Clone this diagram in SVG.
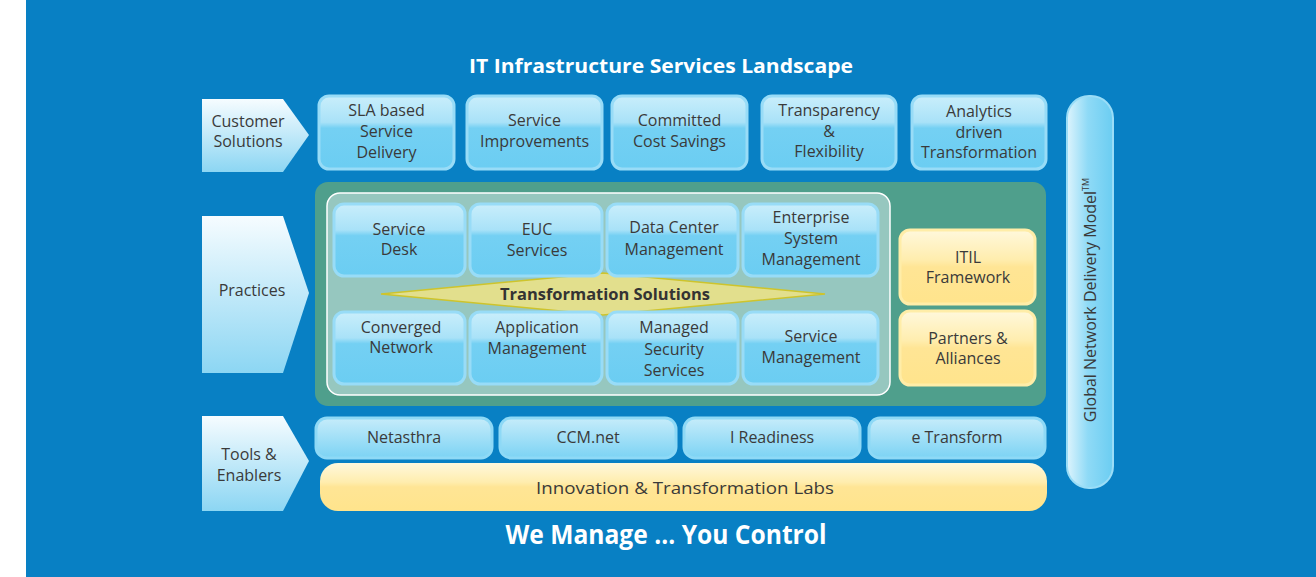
<svg xmlns="http://www.w3.org/2000/svg" width="1316" height="577" viewBox="0 0 1316 577">
  <defs>
    <linearGradient id="gArrow" x1="0" y1="0" x2="0" y2="1">
      <stop offset="0" stop-color="#F6FCFF"/>
      <stop offset="1" stop-color="#8CD6F3"/>
    </linearGradient>
    <linearGradient id="gBlue" x1="0" y1="0" x2="0" y2="1">
      <stop offset="0" stop-color="#C9EEFB"/>
      <stop offset="0.36" stop-color="#A9E2F8"/>
      <stop offset="0.44" stop-color="#74D0F3"/>
      <stop offset="1" stop-color="#6BCDF2"/>
    </linearGradient>
    <linearGradient id="gTool" x1="0" y1="0" x2="0" y2="1">
      <stop offset="0" stop-color="#C6ECFA"/>
      <stop offset="1" stop-color="#7CD3F4"/>
    </linearGradient>
    <linearGradient id="gYellow" x1="0" y1="0" x2="0" y2="1">
      <stop offset="0" stop-color="#FFF8DC"/>
      <stop offset="0.4" stop-color="#FFEDAE"/>
      <stop offset="0.5" stop-color="#FFE595"/>
      <stop offset="1" stop-color="#FFE48C"/>
    </linearGradient>
    <linearGradient id="gPill" x1="0" y1="0" x2="1" y2="0">
      <stop offset="0" stop-color="#DDF4FD"/>
      <stop offset="0.45" stop-color="#8FDAF6"/>
      <stop offset="1" stop-color="#6BCDF2"/>
    </linearGradient>
    <style>
      .t { font-family: "Open Sans", "Liberation Sans", sans-serif; font-size: 16px; fill: #3A3A3A; text-anchor: middle; }
      .h { font-family: "Open Sans", "Liberation Sans", sans-serif; font-weight: bold; fill: #FFFFFF; text-anchor: middle; }
      .arrow { fill: url(#gArrow); }
      .box { fill: url(#gBlue); stroke: #98DCF7; stroke-width: 3; }
      .tool { fill: url(#gTool); stroke: #8ED9F6; stroke-width: 3; }
      .ybox { fill: url(#gYellow); stroke: #FFEDA8; stroke-width: 3; }
    </style>
  </defs>

  <!-- background -->
  <rect x="0" y="0" width="1316" height="577" fill="#FFFFFF"/>
  <rect x="26" y="0" width="1290" height="577" fill="#0880C4"/>

  <text class="h" x="661" y="73" font-size="20" textLength="384" lengthAdjust="spacingAndGlyphs">IT Infrastructure Services Landscape</text>

  <!-- row labels -->
  <g id="label-customer">
    <polygon class="arrow" points="202,99 283,99 309,135 283,172 202,172"/>
    <text class="t" x="248" y="127">Customer</text>
    <text class="t" x="248" y="147">Solutions</text>
  </g>
  <g id="label-practices">
    <polygon class="arrow" points="202,216 283,216 309,293 283,373 202,373"/>
    <text class="t" x="252" y="296">Practices</text>
  </g>
  <g id="label-tools">
    <polygon class="arrow" points="202,416 283,416 309,461 283,511 202,511"/>
    <text class="t" x="249" y="460">Tools &amp;</text>
    <text class="t" x="249" y="481">Enablers</text>
  </g>

  <!-- customer solutions row -->
  <g id="sla">
    <rect class="box" x="319" y="96" width="135" height="73" rx="10"/>
    <text class="t" x="386.5" y="116">SLA based</text>
    <text class="t" x="386.5" y="137">Service</text>
    <text class="t" x="386.5" y="158">Delivery</text>
  </g>
  <g id="service-improvements">
    <rect class="box" x="467" y="96" width="135" height="73" rx="10"/>
    <text class="t" x="534.5" y="126">Service</text>
    <text class="t" x="534.5" y="147">Improvements</text>
  </g>
  <g id="cost-savings">
    <rect class="box" x="612" y="96" width="135" height="73" rx="10"/>
    <text class="t" x="679.5" y="126">Committed</text>
    <text class="t" x="679.5" y="147">Cost Savings</text>
  </g>
  <g id="transparency">
    <rect class="box" x="762" y="96" width="134" height="73" rx="10"/>
    <text class="t" x="829" y="116">Transparency</text>
    <text class="t" x="829" y="137">&amp;</text>
    <text class="t" x="829" y="157">Flexibility</text>
  </g>
  <g id="analytics">
    <rect class="box" x="912" y="96" width="134" height="73" rx="10"/>
    <text class="t" x="979" y="117">Analytics</text>
    <text class="t" x="979" y="138">driven</text>
    <text class="t" x="979" y="158">Transformation</text>
  </g>

  <!-- practices panel -->
  <g id="practices-panel">
    <rect x="315" y="182" width="731" height="224" rx="13" fill="#4F9F8C"/>
    <rect x="327" y="193" width="563" height="202" rx="13" fill="#96C7BF" stroke="#FFFFFF" stroke-width="1.5"/>
  </g>

  <g id="transformation-solutions">
    <polygon points="381,294 603,273 825,294 603,315" fill="#E2DF8D" stroke="#CEC42C" stroke-width="1.5"/>
  </g>

  <g id="service-desk">
    <rect class="box" x="334" y="204" width="131" height="72" rx="10"/>
    <text class="t" x="399" y="235">Service</text>
    <text class="t" x="399" y="255">Desk</text>
  </g>
  <g id="euc">
    <rect class="box" x="470" y="204" width="132" height="72" rx="10"/>
    <text class="t" x="537" y="235">EUC</text>
    <text class="t" x="537" y="256">Services</text>
  </g>
  <g id="data-center">
    <rect class="box" x="607" y="204" width="131" height="72" rx="10"/>
    <text class="t" x="674" y="233">Data Center</text>
    <text class="t" x="674" y="255">Management</text>
  </g>
  <g id="enterprise">
    <rect class="box" x="743" y="204" width="135" height="72" rx="10"/>
    <text class="t" x="811" y="223">Enterprise</text>
    <text class="t" x="811" y="244">System</text>
    <text class="t" x="811" y="265">Management</text>
  </g>
  <g id="converged">
    <rect class="box" x="334" y="312" width="131" height="72" rx="10"/>
    <text class="t" x="401" y="333">Converged</text>
    <text class="t" x="401" y="353">Network</text>
  </g>
  <g id="application">
    <rect class="box" x="470" y="312" width="132" height="72" rx="10"/>
    <text class="t" x="537" y="333">Application</text>
    <text class="t" x="537" y="354">Management</text>
  </g>
  <g id="security">
    <rect class="box" x="607" y="312" width="131" height="72" rx="10"/>
    <text class="t" x="674" y="333">Managed</text>
    <text class="t" x="674" y="355">Security</text>
    <text class="t" x="674" y="376">Services</text>
  </g>
  <g id="service-management">
    <rect class="box" x="743" y="312" width="135" height="72" rx="10"/>
    <text class="t" x="811" y="342">Service</text>
    <text class="t" x="811" y="363">Management</text>
  </g>

  <text x="605" y="300" font-family="'Open Sans', 'Liberation Sans', sans-serif" font-size="16" font-weight="bold" fill="#333333" text-anchor="middle" textLength="210" lengthAdjust="spacingAndGlyphs">Transformation Solutions</text>

  <g id="itil">
    <rect class="ybox" x="900" y="230" width="135" height="74" rx="10"/>
    <text class="t" x="968" y="263">ITIL</text>
    <text class="t" x="968" y="283">Framework</text>
  </g>
  <g id="partners">
    <rect class="ybox" x="900" y="311" width="135" height="74" rx="10"/>
    <text class="t" x="968" y="344">Partners &amp;</text>
    <text class="t" x="968" y="364">Alliances</text>
  </g>

  <!-- tools & enablers row -->
  <g id="netasthra">
    <rect class="tool" x="316" y="418" width="176" height="40" rx="11"/>
    <text class="t" x="404" y="443">Netasthra</text>
  </g>
  <g id="ccm">
    <rect class="tool" x="500" y="418" width="176" height="40" rx="11"/>
    <text class="t" x="588" y="443">CCM.net</text>
  </g>
  <g id="readiness">
    <rect class="tool" x="684" y="418" width="176" height="40" rx="11"/>
    <text class="t" x="772" y="443">I Readiness</text>
  </g>
  <g id="etransform">
    <rect class="tool" x="869" y="418" width="176" height="40" rx="11"/>
    <text class="t" x="957" y="443">e Transform</text>
  </g>
  <g id="labs">
    <rect x="320" y="463" width="727" height="48" rx="18" fill="url(#gYellow)"/>
    <text class="t" x="685" y="494" font-size="19" textLength="298" lengthAdjust="spacingAndGlyphs">Innovation &amp; Transformation Labs</text>
  </g>

  <!-- delivery model pillar -->
  <g id="delivery-model">
    <rect x="1067" y="96" width="46" height="392" rx="22" fill="url(#gPill)" stroke="#9ADDF7" stroke-width="2"/>
    <text class="t" transform="translate(1096,300) rotate(-90)" font-size="15.5">Global Network Delivery Model<tspan font-size="9" dy="-7">TM</tspan></text>
  </g>

  <g id="connectors"></g>

  <text class="h" x="666" y="544" font-size="26" textLength="321" lengthAdjust="spacingAndGlyphs">We Manage ... You Control</text>
</svg>
